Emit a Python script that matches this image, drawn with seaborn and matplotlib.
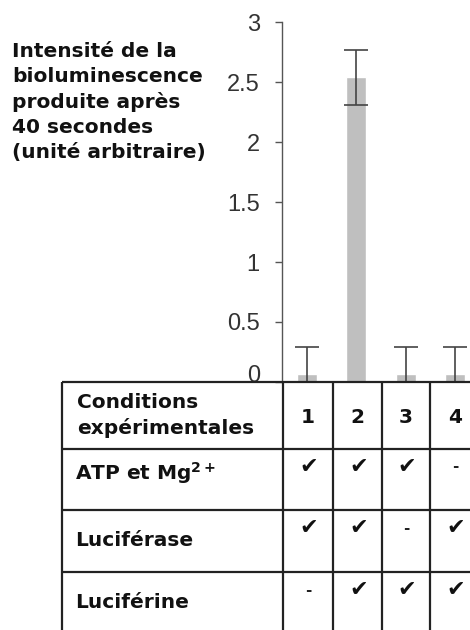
import matplotlib
matplotlib.use("Agg")
import matplotlib.pyplot as plt
import matplotlib.transforms as mtransforms
import seaborn as sns
import pandas as pd
from matplotlib.ticker import FuncFormatter

# ---- data ----
conditions = ["1", "2", "3", "4"]
intensity = [0.07, 2.54, 0.07, 0.07]
errors = [0.22, 0.23, 0.22, 0.22]
row_labels = ["ATP et Mg$^{\\mathbf{2+}}$", "Luciférase", "Luciférine"]
presence = [[1, 1, 1, 0],
            [1, 1, 0, 1],
            [0, 1, 1, 1]]
yticks = [0, 0.5, 1, 1.5, 2, 2.5, 3]
ylabel_lines = ["Intensité de la", "bioluminescence", "produite après",
                "40 secondes", "(unité arbitraire)"]
header_label = "Conditions\nexpérimentales"

sns.set_style("white")
plt.rcParams['font.family'] = ['DejaVu Sans']

W, H = 470, 630
fig = plt.figure(figsize=(W / 100, H / 100), dpi=100)

# ---- bar chart axes ----
ax = fig.add_axes([282 / W, (H - 382) / H, (W - 282) / W, (382 - 22) / H])
df = pd.DataFrame({"cond": conditions, "val": intensity})
sns.barplot(data=df, x="cond", y="val", color="#bfbfbf", width=0.4,
            saturation=1, ax=ax, errorbar=None)
ax.errorbar(range(len(conditions)), intensity, yerr=errors, fmt="none",
            ecolor="#444444", elinewidth=1.2, capsize=8.5, capthick=1.2,
            clip_on=True)
ax.set_xlim(-0.5, -0.5 + 188 / 49.5)
ax.set_ylim(0, 3)
ax.set_yticks(yticks)
ax.yaxis.set_major_formatter(FuncFormatter(lambda v, p: f"{v:g}"))
for s in ["top", "right", "bottom"]:
    ax.spines[s].set_visible(False)
ax.spines["left"].set_color("#555555")
ax.spines["left"].set_linewidth(1.0)
ax.tick_params(axis="y", left=True, length=5, width=1.0, color="#555555",
               pad=11, labelsize=17, labelcolor="#333333")
for t in ax.get_yticklabels():
    t.set_family(["Liberation Sans", "DejaVu Sans"])
ax.tick_params(axis="x", bottom=False, labelbottom=False)
ax.set_xlabel("")
ax.set_ylabel("")
# lift the "0" label slightly so it sits above the table border
zero_lbl = ax.yaxis.get_major_ticks()[0].label1
zero_lbl.set_transform(zero_lbl.get_transform() +
                       mtransforms.ScaledTranslation(0, 9 / 100,
                                                     fig.dpi_scale_trans))

# ---- y label text ----
fig.text(12 / W, 1 - 42 / H, "\n".join(ylabel_lines), ha="left", va="top",
         fontsize=14.5, fontweight="bold", linespacing=1.4, color="#111111")

# ---- condition table ----
col_edges = [62, 283, 333, 382, 430, 480]
row_edges = [382, 449, 510, 572, 634]
tax = fig.add_axes([0, 0, 1, 1], facecolor="none")
tax.set_xlim(0, W)
tax.set_ylim(H, 0)
tax.axis("off")
lw = 1.6
lc = "#222222"
for x in col_edges:
    tax.plot([x, x], [row_edges[0], row_edges[-1]], color=lc, lw=lw,
             solid_capstyle="butt")
for y in row_edges:
    tax.plot([col_edges[0], col_edges[-1]], [y, y], color=lc, lw=lw,
             solid_capstyle="butt")

txt_kw = dict(fontsize=14.5, fontweight="bold", color="#111111")
tax.text(col_edges[0] + 15, (row_edges[0] + row_edges[1]) / 2,
         header_label, ha="left", va="center", linespacing=1.35, **txt_kw)
for j, c in enumerate(conditions):
    xc = (col_edges[j + 1] + col_edges[j + 2]) / 2
    tax.text(xc, (row_edges[0] + row_edges[1]) / 2 + 2, c, ha="center",
             va="center", **txt_kw)
for i, lab in enumerate(row_labels):
    y0, y1 = row_edges[i + 1], row_edges[i + 2]
    ylab = (y0 + y1) / 2 - (6 if i == 0 else 0)
    tax.text(col_edges[0] + 13, ylab, lab, ha="left", va="center", **txt_kw)
    for j, p in enumerate(presence[i]):
        xc = (col_edges[j + 1] + col_edges[j + 2]) / 2
        if p:
            tax.text(xc + 1, y0 + 18, "\u2714", ha="center", va="center",
                     fontsize=16, color="#111111")
        else:
            tax.text(xc, y0 + 18, "-", ha="center", va="center",
                     fontsize=11, fontweight="bold", color="#222222")

fig.savefig("out.png", dpi=100)
